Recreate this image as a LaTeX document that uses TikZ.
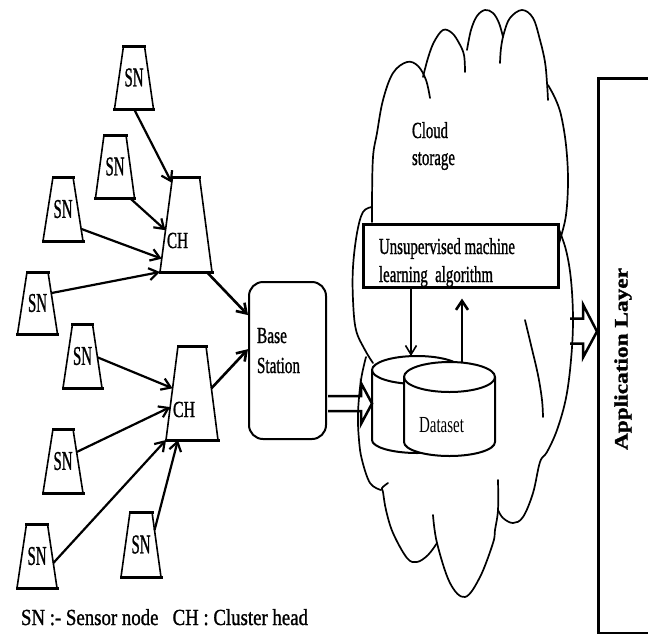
\documentclass[tikz,border=0pt]{standalone}
\usepackage{fontspec}
\setmainfont{Liberation Serif}[FakeBold=1.3]
\newfontface\plainface{Liberation Serif}
\usetikzlibrary{arrows.meta,calc}
\newcommand\fitw[2]{\resizebox{#1pt}{\height}{#2}}
% #1 name, #2 cx, #3 cy, #4 half top width, #5 half bottom width, #6 half height, #7 text
\newcommand\trapz[7]{%
  \coordinate (#1-tl) at ({#2-#4},{#3-#6});
  \coordinate (#1-tr) at ({#2+#4},{#3-#6});
  \coordinate (#1-bl) at ({#2-#5},{#3+#6});
  \coordinate (#1-br) at ({#2+#5},{#3+#6});
  \draw[trapside] (#1-tl) -- (#1-bl) (#1-tr) -- (#1-br);
  \draw[edge] (#1-tl) -- (#1-tr) (#1-bl) -- (#1-br);
  \node[snl] (#1) at (#2,#3) {#7};
}
\begin{document}
\begin{tikzpicture}[x=1pt,y=-1pt,
  trapside/.style={line width=1.6pt},
  edge/.style={line width=3pt, line cap=rect},
  snl/.style={inner sep=0pt, outer sep=0pt, font=\fontsize{27}{30}\selectfont},
  lbl/.style={inner sep=0pt, outer sep=0pt, font=\fontsize{23}{27}\selectfont},
  link/.style={line width=2.2pt, -{Straight Barb[length=9pt,width=12pt]}},
  cloudl/.style={line width=1.7pt, line cap=round},
  blk/.style={line width=2.5pt, line join=miter},
]
\useasboundingbox (0,0) rectangle (648,633);

% ---------- cloud ----------
\draw[cloudl] plot[smooth, tension=0.6] coordinates {(372,222) (372,200) (373,157) (377,133) (383,100) (393,73) (407,62) (418,66) (426,80) (430,98)};
\draw[cloudl] plot[smooth, tension=0.6] coordinates {(423,77) (428,58) (434,42) (443,30) (452,33) (459,43) (464,55) (465,72)};
\draw[cloudl] plot[smooth, tension=0.6] coordinates {(467,50) (471,30) (477,16) (485,10) (493,13) (499,23) (503,37)};
\draw[cloudl] plot[smooth, tension=0.6] coordinates {(500,63) (501,48) (504,33) (510,18) (522,10) (533,18) (540,40) (545,62) (547,83) (548,100)};
\draw[cloudl] plot[smooth, tension=0.6] coordinates {(548,85) (555,98) (561,115) (566,145) (568,180) (566,215) (560,240) (556,253)};
\draw[cloudl] plot[smooth, tension=0.6] coordinates {(558,227) (566,250) (571,280) (573,320) (571,360) (566,398) (557,430) (547,452) (540,462) (533,493) (523,517) (513,523) (503,518) (498,510)};
\draw[cloudl] plot[smooth, tension=0.6] coordinates {(525,320) (531,345) (538,375) (542,400) (543,417)};
\draw[cloudl] plot[smooth, tension=0.6] coordinates {(498,480) (498,510) (495,530) (493,543) (480,577) (465,597) (450,583) (437,543) (433,515)};
\draw[cloudl] plot[smooth, tension=0.6] coordinates {(437,543) (428,555) (417,562) (407,558) (393,533) (386,510) (383,492) (382,488) (388,483)};
\draw[cloudl] plot[smooth, tension=0.6] coordinates {(366,357) (361,380) (358,413) (359,440) (362,460) (370,483) (381,490)};
\draw[cloudl] plot[smooth, tension=0.6] coordinates {(372,207) (363,212) (357,233) (353,267) (353,300) (356,330) (365,350) (373,363)};

% ---------- sensor nodes and cluster heads ----------
\trapz{sn1}{134}{77.5}{10.5}{19.5}{31.5}{\fitw{19}{SN}}
\trapz{sn2}{115}{166.5}{11}{19.5}{31.5}{\fitw{19}{SN}}
\trapz{sn3}{63}{209}{10}{20}{32}{\fitw{19}{SN}}
\trapz{sn4}{37.5}{303}{10.5}{20}{31}{\fitw{19}{SN}}
\trapz{sn5}{82.5}{356}{10}{19.5}{32}{\fitw{19}{SN}}
\trapz{sn6}{63}{461}{10}{20}{32}{\fitw{19}{SN}}
\trapz{sn7}{37}{556}{10.5}{20}{32}{\fitw{19}{SN}}
\trapz{sn8}{141}{544.5}{11}{20}{32.5}{\fitw{19}{SN}}
\trapz{ch1}{186}{224.5}{13.5}{26}{47.5}{}
\trapz{ch2}{192}{393}{14}{26}{47}{}
\node[lbl] (ch1t) at (177.5,240.5) {\fitw{21}{CH}};
\node[lbl] (ch2t) at (184,409.5) {\fitw{22}{CH}};

% ---------- base station ----------
\node[draw, line width=2pt, rounded corners=14pt, minimum width=77pt, minimum height=157pt, inner sep=0pt] (bs) at (287.5,360.5) {};
\node[lbl, anchor=base west] (bst1) at (257,343) {\fitw{30}{Base}};
\node[lbl, anchor=base west] (bst2) at (257,373) {\fitw{43}{Station}};

% ---------- links ----------
\draw[link] ($(sn1-bl)!0.5!(sn1-br)$) -- ($(ch1-tl)!0.06!(ch1-bl)$);
\draw[link] ($(sn2-bl)!0.88!(sn2-br)$) -- ($(ch1-tl)!0.56!(ch1-bl)$);
\draw[link] ($(sn3-tr)!0.81!(sn3-br)$) -- ($(ch1-tl)!0.86!(ch1-bl)$);
\draw[link] ($(sn4-tr)!0.34!(sn4-br)$) -- (ch1-bl);
\draw[link, line width=2.6pt] ($(ch1-bl)!0.9!(ch1-br)$) -- (bs.131);
\draw[link] ($(sn5-tr)!0.52!(sn5-br)$) -- ($(ch2-tl)!0.45!(ch2-bl)$);
\draw[link] ($(sn6-tr)!0.36!(sn6-br)$) -- ($(ch2-tl)!0.65!(ch2-bl)$);
\draw[link] ($(sn7-tr)!0.61!(sn7-br)$) -- (ch2-bl);
\draw[link] ($(sn8-tr)!0.28!(sn8-br)$) -- ($(ch2-bl)!0.23!(ch2-br)$);
\draw[link, line width=2.6pt] ($(ch2-tr)!0.45!(ch2-br)$) -- (bs.164);

% ---------- algorithm box ----------
\node[draw, fill=white, line width=3pt, minimum width=195pt, minimum height=63pt, inner sep=0pt] (alg) at (460.5,255.5) {};
\node[lbl, anchor=base west] (algt1) at (379,254) {\fitw{136}{Unsupervised machine}};
\node[lbl, anchor=base west] (algt2) at (379,282) {\fitw{114}{learning\ \ algorithm}};

% ---------- cloud label ----------
\node[lbl, anchor=base west] (cl1) at (412,138) {\fitw{36}{Cloud}};
\node[lbl, anchor=base west] (cl2) at (412,165) {\fitw{43}{storage}};

% ---------- dataset cylinders ----------
\filldraw[fill=white, line width=2pt] (372,370) -- (372,440) arc[start angle=180, end angle=360, x radius=45pt, y radius=13pt] -- (462,370) arc[start angle=0, end angle=180, x radius=45pt, y radius=14pt] -- cycle;
\draw[line width=2pt] (372,370) arc[start angle=180, end angle=360, x radius=45pt, y radius=14pt];
\filldraw[fill=white, line width=2pt] (404,377) -- (404,442) arc[start angle=180, end angle=360, x radius=45.5pt, y radius=14pt] -- (495,377) arc[start angle=0, end angle=180, x radius=45.5pt, y radius=15pt] -- cycle;
\draw[line width=2pt] (404,377) arc[start angle=180, end angle=360, x radius=45.5pt, y radius=15pt];
\node[lbl, anchor=base west, font=\plainface\fontsize{23}{27}\selectfont] (ds) at (419,432) {\fitw{45}{Dataset}};
\coordinate (dbtop) at (411,356);
\coordinate (dftop) at (462,362.5);
\coordinate (dbleft) at (372,403.5);

\draw[line width=1.6pt, -{Straight Barb[length=9pt,width=11pt]}] (alg.south -| dbtop) -- (dbtop);
\draw[line width=2.6pt, -{Straight Barb[length=9pt,width=12pt]}] (dftop) -- ($(alg.south -| dftop)+(0,10)$);

% ---------- block arrow: base station -> dataset ----------
\coordinate (bsa) at ($(bs.east)+(1,43)$);
\draw[blk] ($(bsa)+(0,-7.5)$) -- ++(33,0) -- ++(0,-13) -- (dbleft) -- ($(bsa)+(33,20.5)$) -- ++(0,-13) -- ++(-33,0);

% ---------- application layer ----------
\node[draw, line width=3pt, minimum width=103pt, minimum height=555pt, inner sep=0pt, anchor=north west] (app) at (597,77) {};
\node[inner sep=0pt, rotate=90, font=\bfseries\fontsize{19}{22}\selectfont] (applbl) at (623,359) {\fitw{182}{Application Layer}};
\coordinate (apptip) at ($(app.west)+(0,-24.5)$);
\draw[blk] ($(apptip)+(-27,-13)$) -- ++(13,0) -- ++(0,-14) -- (apptip) -- ($(apptip)+(-14,26)$) -- ++(0,-14) -- ++(-13,0);

% ---------- legend ----------
\node[lbl, anchor=base west] (legend) at (21,625) {\fitw{287}{SN :- Sensor node\ \ \ CH : Cluster head}};
\end{tikzpicture}
\end{document}
